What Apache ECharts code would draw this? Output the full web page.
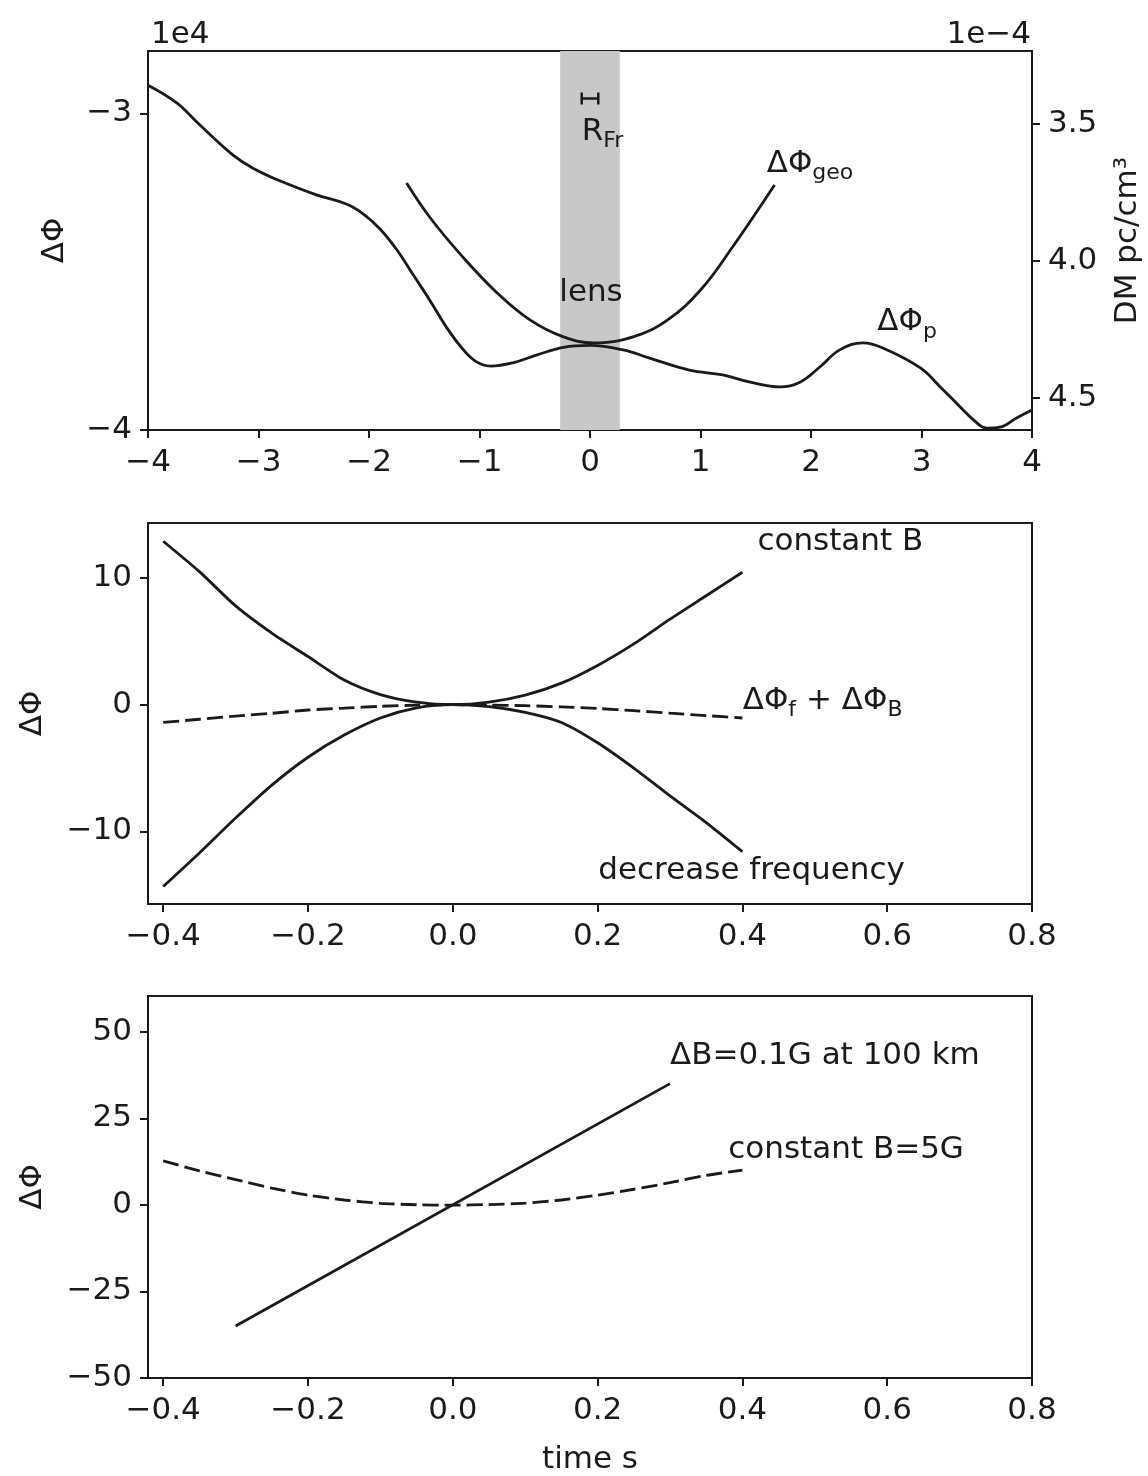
<!DOCTYPE html>
<html>
<head>
<meta charset="utf-8">
<script src="https://cdn.jsdelivr.net/npm/echarts@6/dist/echarts.min.js"></script>
<style>
  html, body { margin: 0; padding: 0; background: #fff; }
  #chart { width: 1148px; height: 1468px; }
</style>
</head>
<body>
<div id="chart"></div>
<script>
// ---- panel 1 : phase (units of 1e4) vs position ----
const xPulse = [-4.0, -3.74, -3.53, -3.23, -3.05, -2.78, -2.47, -2.2, -2.05, -1.9, -1.75, -1.6, -1.45, -1.3, -1.15, -1.03, -0.9, -0.69, -0.48, -0.24, 0.0, 0.3, 0.54, 0.9, 1.2, 1.45, 1.72, 1.9, 2.08, 2.26, 2.47, 2.65, 2.99, 3.17, 3.35, 3.47, 3.59, 3.71, 3.86, 4.0];
const yPulse = [-2.911, -2.967, -3.037, -3.132, -3.173, -3.217, -3.258, -3.287, -3.318, -3.365, -3.43, -3.51, -3.59, -3.675, -3.745, -3.784, -3.798, -3.787, -3.763, -3.739, -3.733, -3.747, -3.773, -3.811, -3.826, -3.849, -3.864, -3.849, -3.801, -3.747, -3.725, -3.741, -3.804, -3.864, -3.927, -3.968, -3.994, -3.991, -3.962, -3.937];
const xGeo = [-1.66, -1.45, -1.15, -0.84, -0.54, -0.24, 0.03, 0.39, 0.7, 1.0, 1.29, 1.67];
const yGeo = [-3.22, -3.328, -3.454, -3.567, -3.653, -3.706, -3.725, -3.706, -3.653, -3.558, -3.422, -3.226];
const lensBand = [-0.27, 0.27];
const fresnelX = [-0.075, 0.075];
const fresnelY = -2.953;

// ---- panel 2 ----
const t2 = [-0.4, -0.35, -0.3, -0.25, -0.2, -0.15, -0.1, -0.05, 0, 0.05, 0.1, 0.15, 0.2, 0.25, 0.3, 0.35, 0.4];
const constB = [12.9, 10.5, 7.8, 5.65, 3.8, 1.95, 0.8, 0.2, 0, 0.2, 0.75, 1.7, 3.1, 4.8, 6.75, 8.6, 10.45];
const decFreq = [-14.35, -11.7, -8.95, -6.35, -4.15, -2.4, -1.05, -0.25, 0, -0.15, -0.6, -1.4, -3.0, -5.0, -7.2, -9.3, -11.6];
const sumFB = [-1.4, -1.15, -0.9, -0.68, -0.42, -0.27, -0.13, -0.04, 0, -0.03, -0.08, -0.17, -0.3, -0.47, -0.67, -0.86, -1.05];

// ---- panel 3 ----
const t3Lin = [-0.3, 0.3];
const gradB = [-35, 35];
const t3 = [-0.4, -0.35, -0.3, -0.25, -0.2, -0.15, -0.1, -0.05, 0, 0.05, 0.1, 0.15, 0.2, 0.25, 0.3, 0.35, 0.4];
const constB5 = [12.7, 9.8, 7.3, 4.8, 2.8, 1.4, 0.45, 0.02, -0.1, 0.08, 0.5, 1.4, 2.8, 4.5, 6.4, 8.5, 10.0];

// ticks
const ticks1x = [-4, -3, -2, -1, 0, 1, 2, 3, 4];
const ticks1y = [-4, -3];
const ticks1r = [3.5, 4.0, 4.5];
const ticksT = [-0.4, -0.2, 0, 0.2, 0.4, 0.6, 0.8];
const ticks2y = [-10, 0, 10];
const ticks3y = [-50, -25, 0, 25, 50];

const FONT = 'DejaVu Sans';
const INK = '#1a1a1a';
const zip = (a, b) => a.map((v, i) => [v, b[i]]);
const minus = s => String(s).replace('-', '\u2212');

function xAx(grid, min, max, ticks, fmt, extra) {
  return Object.assign({
    gridIndex: grid, type: 'value', min: min, max: max,
    axisLine: { onZero: false, lineStyle: { color: INK, width: 2 } },
    axisTick: { length: 8, customValues: ticks, lineStyle: { color: INK, width: 2 } },
    axisLabel: { customValues: ticks, formatter: fmt, fontSize: 31, fontFamily: FONT, color: INK, margin: 17 },
    splitLine: { show: false }
  }, extra || {});
}
function yAx(grid, min, max, ticks, fmt, extra) {
  return Object.assign({
    gridIndex: grid, type: 'value', min: min, max: max,
    axisLine: { onZero: false, lineStyle: { color: INK, width: 2 } },
    axisTick: { length: 8, customValues: ticks, lineStyle: { color: INK, width: 2 } },
    axisLabel: { customValues: ticks, formatter: fmt, fontSize: 31, fontFamily: FONT, color: INK, margin: 16 },
    splitLine: { show: false },
    nameLocation: 'middle', nameRotate: 90,
    nameTextStyle: { fontSize: 31, fontFamily: FONT, color: INK }
  }, extra || {});
}

const RICH = {
  m: { fontSize: 31, fontFamily: FONT, color: INK, padding: [0, 0, 5, 0], verticalAlign: 'bottom' },
  s: { fontSize: 22, fontFamily: FONT, color: INK, verticalAlign: 'bottom' }
};
function notes(xi, yi, list) {
  return {
    type: 'scatter', xAxisIndex: xi, yAxisIndex: yi, silent: true, z: 5,
    symbolSize: 1, itemStyle: { color: 'rgba(0,0,0,0)', opacity: 1 },
    label: { show: true, position: 'inside', align: 'left', verticalAlign: 'bottom', rich: RICH,
             color: INK, opacity: 1, formatter: p => p.data.text },
    data: list.map(n => ({ value: [n[0], n[1]], text: n[2] }))
  };
}
function curve(xi, yi, data, dashed, smooth) {
  return {
    type: 'line', xAxisIndex: xi, yAxisIndex: yi, data: data, showSymbol: false, symbol: 'none',
    smooth: smooth || 0.25, z: 3, silent: true,
    lineStyle: { color: INK, width: 2.8, type: dashed ? [16, 6] : 'solid' }
  };
}

const gridBox = { show: true, borderColor: INK, borderWidth: 2, backgroundColor: 'transparent',
                  containLabel: false, outerBoundsMode: 'none' };

const option = {
  animation: false,
  backgroundColor: '#fff',
  grid: [
    Object.assign({ left: 148, top: 51, width: 884, height: 379 }, gridBox),
    Object.assign({ left: 148, top: 523, width: 884, height: 381 }, gridBox),
    Object.assign({ left: 148, top: 996, width: 884, height: 382 }, gridBox)
  ],
  xAxis: [
    xAx(0, -4, 4, ticks1x, v => minus(v)),
    xAx(1, -0.421, 0.8, ticksT, v => minus(v.toFixed(1))),
    xAx(2, -0.421, 0.8, ticksT, v => minus(v.toFixed(1)), {
      name: 'time s', nameLocation: 'middle', nameGap: 66,
      nameTextStyle: { fontSize: 31, fontFamily: FONT, color: INK }
    })
  ],
  yAxis: [
    yAx(0, -4, -2.803, ticks1y, v => minus(v), { name: 'ΔΦ', nameGap: 78 }),
    yAx(0, 3.234, 4.616, ticks1r, v => v.toFixed(1), {
      position: 'right', inverse: true, name: 'DM pc/cm³', nameGap: 80
    }),
    yAx(1, -15.73, 14.34, ticks2y, v => minus(v), { name: 'ΔΦ', nameGap: 100 }),
    yAx(2, -50, 60.3, ticks3y, v => minus(v), { name: 'ΔΦ', nameGap: 100 })
  ],
  graphic: [
    { type: 'text', x: 151, y: 35, style: { text: '1e4', fontSize: 31, fontFamily: FONT, fill: INK, align: 'left', verticalAlign: 'middle' } },
    { type: 'text', x: 1031, y: 35, style: { text: '1e\u22124', fontSize: 31, fontFamily: FONT, fill: INK, align: 'right', verticalAlign: 'middle' } }
  ],
  series: [
    Object.assign(curve(0, 0, zip(xPulse, yPulse), false, 0.4), {
      markArea: { silent: true, itemStyle: { color: '#c8c8c8' },
                  data: [[{ xAxis: lensBand[0] }, { xAxis: lensBand[1] }]] }
    }),
    curve(0, 0, zip(xGeo, yGeo), false, 0.4),
    {
      type: 'line', xAxisIndex: 0, yAxisIndex: 0, silent: true, z: 4,
      data: fresnelX.map(x => [x, fresnelY]),
      symbol: 'rect', symbolSize: [2.5, 12], showSymbol: true,
      itemStyle: { color: INK }, lineStyle: { color: INK, width: 2.5 }
    },
    notes(0, 0, [
      [-0.075, -3.123, '{m|R}{s|Fr}'],
      [1.599, -3.225, '{m|ΔΦ}{s|geo}'],
      [-0.278, -3.631, '{m|lens}'],
      [2.6, -3.725, '{m|ΔΦ}{s|p}']
    ]),
    curve(1, 2, zip(t2, constB)),
    curve(1, 2, zip(t2, decFreq)),
    curve(1, 2, zip(t2, sumFB), true),
    notes(1, 2, [
      [0.4207, 11.21, '{m|constant B}'],
      [0.4005, -1.29, '{m|ΔΦ}{s|f}{m| + ΔΦ}{s|B}'],
      [0.201, -14.71, '{m|decrease frequency}']
    ]),
    curve(2, 3, zip(t3Lin, gradB)),
    curve(2, 3, zip(t3, constB5), true),
    notes(2, 3, [
      [0.3, 37.17, '{m|ΔB=0.1G at 100 km}'],
      [0.3805, 9.91, '{m|constant B=5G}']
    ])
  ]
};

const chart = echarts.init(document.getElementById('chart'));
chart.setOption(option);
</script>
</body>
</html>
